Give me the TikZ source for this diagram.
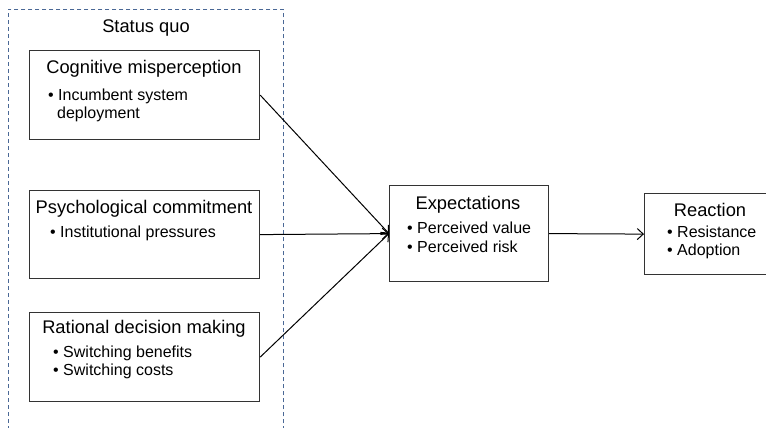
\documentclass[tikz,border=0pt]{standalone}
\usepackage{fontspec}
\setmainfont{Liberation Sans}
\usetikzlibrary{positioning,arrows.meta}

\definecolor{framegray}{HTML}{333333}
\definecolor{sqblue}{HTML}{4A6896}

\tikzset{
  box/.style={draw=framegray, line width=1.2pt, rectangle, inner sep=0pt, anchor=north west},
  ttl/.style={inner sep=0pt, anchor=base, font=\fontsize{18.3}{22}\selectfont},
  item/.style={inner sep=0pt, anchor=base west, font=\fontsize{16}{19}\selectfont},
  link/.style={line width=1pt, -{Straight Barb[length=6pt,width=11pt]}}
}

\begin{document}
\begin{tikzpicture}[x=1pt, y=-1pt]

\clip (0,0) rectangle (766,428);

% ── Status quo frame ───────────────────────────────
\node[box, draw=sqblue, line width=0.9pt, dash pattern=on 4pt off 3pt,
      minimum width=275pt, minimum height=440pt] (sq) at (8,9) {};
\node[ttl] (sqT) at (146,33) {Status quo};

% ── Left boxes ─────────────────────────────────────
\node[box, minimum width=230pt, minimum height=89pt] (cog) at (29,50) {};
\node[ttl] (cogT) at (144,74) {Cognitive misperception};
\node[item] (cog1) at (48,100) {\textbullet\ Incumbent system};
\node[item] (cog2) at (57,118) {deployment};

\node[box, minimum width=230pt, minimum height=88pt] (psy) at (29,190) {};
\node[ttl] (psyT) at (144,213) {Psychological commitment};
\node[item] (psy1) at (50,237) {\textbullet\ Institutional pressures};

\node[box, minimum width=230pt, minimum height=89pt] (rat) at (29,312) {};
\node[ttl] (ratT) at (144,333) {Rational decision making};
\foreach \i/\y/\txt in {1/357/Switching benefits, 2/375/Switching costs}
  \node[item] (rat\i) at (53,\y) {\textbullet\ \txt};

% ── Expectations ───────────────────────────────────
\node[box, minimum width=159pt, minimum height=96pt] (exp) at (389,185) {};
\node[ttl] (expT) at (468,209) {Expectations};
\foreach \i/\y/\txt in {1/233/Perceived value, 2/252/Perceived risk}
  \node[item] (exp\i) at (407,\y) {\textbullet\ \txt};

% ── Reaction ───────────────────────────────────────
\node[box, minimum width=132pt, minimum height=81pt] (rea) at (644,193) {};
\node[ttl] (reaT) at (710,216) {Reaction};
\foreach \i/\y/\txt in {1/237/Resistance, 2/255/Adoption}
  \node[item] (rea\i) at (667,\y) {\textbullet\ \txt};

% ── Arrows ─────────────────────────────────────────
\draw[link] (cog.east) -- (exp.west);
\draw[link] (psy.east) -- (exp.west);
\draw[link] (rat.east) -- (exp.west);
\draw[link] (exp.east) -- (rea.west);

\end{tikzpicture}
\end{document}
